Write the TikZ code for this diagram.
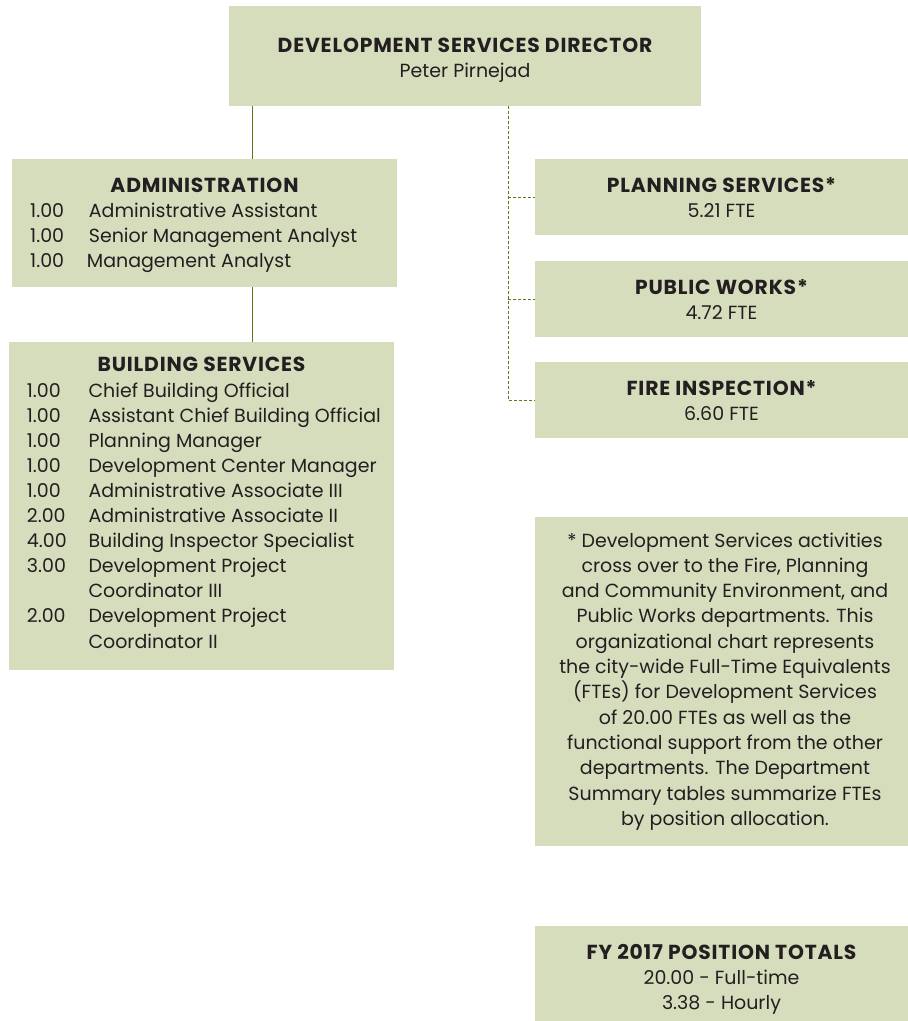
\documentclass[tikz,border=0pt]{standalone}
\usepackage{fontspec}
\setmainfont{Poppins}
\newfontfamily\ttlfont[LetterSpace=4]{Poppins}
\begin{document}
\definecolor{boxfill}{HTML}{D6DDBD}
\definecolor{inktext}{HTML}{231F20}
\definecolor{linkline}{HTML}{5B7B14}
\begin{tikzpicture}[x=1pt,y=-1pt,
  orgbox/.style={rectangle,fill=boxfill,draw=none,inner sep=0,anchor=north west},
  ttl/.style={inner sep=0,anchor=base,text=inktext,font=\ttlfont\bfseries\fontsize{20.3}{23}\selectfont},
  txt/.style={inner sep=0,text=inktext,font=\fontsize{19}{22}\selectfont},
  ctxt/.style={txt,anchor=base},
  ltxt/.style={txt,anchor=base west},
  solidlink/.style={draw=linkline,line width=1pt},
  dashlink/.style={draw=linkline,line width=1pt,dash pattern=on 3pt off 2pt}]
\useasboundingbox (0,0) rectangle (908,1021);

% boxes
\node[orgbox,minimum width=472pt,minimum height=100pt] (dir) at (229,6) {};
\node[orgbox,minimum width=385pt,minimum height=128pt] (adm) at (12,159) {};
\node[orgbox,minimum width=385pt,minimum height=328pt] (bld) at (9,342) {};
\node[orgbox,minimum width=373pt,minimum height=76pt] (pln) at (535,159) {};
\node[orgbox,minimum width=373pt,minimum height=76pt] (pwk) at (535,261) {};
\node[orgbox,minimum width=373pt,minimum height=76pt] (fir) at (535,362) {};
\node[orgbox,minimum width=373pt,minimum height=329pt] (note) at (535,517) {};
\node[orgbox,minimum width=373pt,minimum height=95pt] (tot) at (535,926) {};

% connectors
\coordinate (trunkL) at (252,0);
\coordinate (trunkR) at (508,0);
\draw[solidlink] (trunkL |- dir.south) -- (trunkL |- adm.north);
\draw[solidlink] (trunkL |- adm.south) -- (trunkL |- bld.north);
\draw[dashlink] (trunkR |- dir.south) -- (trunkR |- fir.west) -- (fir.west);
\draw[dashlink] (trunkR |- pln.west) -- (pln.west);
\draw[dashlink] (trunkR |- pwk.west) -- (pwk.west);

% director
\node[ttl] (dirT) at (465,52) {DEVELOPMENT SERVICES DIRECTOR};
\node[ctxt] (dirN) at (465,77) {Peter Pirnejad};

% administration
\node[ttl] (admT) at (204.5,192) {ADMINISTRATION};
\node[ltxt] (admA1) at (30,217) {1.00};
\node[ltxt] (admB1) at (88.7,217) {Administrative Assistant};
\node[ltxt] (admA2) at (30,242) {1.00};
\node[ltxt] (admB2) at (88.7,242) {Senior Management Analyst};
\node[ltxt] (admA3) at (30,267) {1.00};
\node[ltxt] (admB3) at (86.7,267) {Management Analyst};

% building services
\node[ttl] (bldT) at (201.5,371) {BUILDING SERVICES};
\foreach \n/\num/\job [count=\i from 0] in {
  1/1.00/Chief Building Official,
  2/1.00/Assistant Chief Building Official,
  3/1.00/Planning Manager,
  4/1.00/Development Center Manager,
  5/1.00/Administrative Associate III,
  6/2.00/Administrative Associate II,
  7/4.00/Building Inspector Specialist,
  8/3.00/Development Project,
  9/{}/Coordinator III,
  10/2.00/Development Project,
  11/{}/Coordinator II}{
  \node[ltxt] (bldA\n) at (26.7,{397+25.1*\i}) {\num};
  \node[ltxt] (bldB\n) at (88.3,{397+25.1*\i}) {\job};
}

% linked departments
\node[ttl] (plnT) at (721.5,192) {PLANNING SERVICES*};
\node[ctxt] (plnN) at (721.5,217) {5.21 FTE};
\node[ttl] (pwkT) at (721.5,294) {PUBLIC WORKS*};
\node[ctxt] (pwkN) at (721.5,319) {4.72 FTE};
\node[ttl] (firT) at (721.5,395) {FIRE INSPECTION*};
\node[ctxt] (firN) at (721.5,420) {6.60 FTE};

% footnote
\foreach \ln [count=\i from 0] in {
  * Development Services activities,
  {cross over to the Fire, Planning},
  {and Community Environment, and},
  Public Works departments. This,
  organizational chart represents,
  the city-wide Full-Time Equivalents,
  (FTEs) for Development Services,
  of 20.00 FTEs as well as the,
  functional support from the other,
  departments. The Department,
  Summary tables summarize FTEs,
  by position allocation.}{
  \node[ctxt] (noteL\i) at (725,{547+25.3*\i}) {\ln};
}

% totals
\node[ttl] (totT) at (721.5,959) {FY 2017 POSITION TOTALS};
\node[ctxt] (totA) at (721.5,984) {20.00 - Full-time};
\node[ctxt] (totB) at (721.5,1009) {3.38 - Hourly};
\end{tikzpicture}
\end{document}
